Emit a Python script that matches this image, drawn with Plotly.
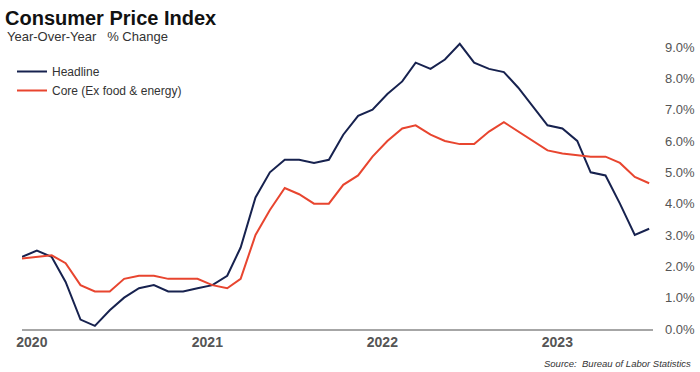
import plotly.graph_objects as go
import pandas as pd

months = pd.date_range("2019-12-01", "2023-07-01", freq="MS")

headline = [2.3,
            2.5, 2.3, 1.5, 0.3, 0.1, 0.6, 1.0, 1.3, 1.4, 1.2, 1.2, 1.3,
            1.4, 1.7, 2.6, 4.2, 5.0, 5.4, 5.4, 5.3, 5.4, 6.2, 6.8, 7.0,
            7.5, 7.9, 8.5, 8.3, 8.6, 9.1, 8.5, 8.3, 8.2, 7.7, 7.1, 6.5,
            6.4, 6.0, 5.0, 4.9, 4.0, 3.0, 3.2]

core = [2.25,
        2.3, 2.35, 2.1, 1.4, 1.2, 1.2, 1.6, 1.7, 1.7, 1.6, 1.6, 1.6,
        1.4, 1.3, 1.6, 3.0, 3.8, 4.5, 4.3, 4.0, 4.0, 4.6, 4.9, 5.5,
        6.0, 6.4, 6.5, 6.2, 6.0, 5.9, 5.9, 6.3, 6.6, 6.3, 6.0, 5.7,
        5.6, 5.55, 5.5, 5.5, 5.3, 4.85, 4.65]

y_ticks = [0, 1, 2, 3, 4, 5, 6, 7, 8, 9]
y_tick_text = [f"{v:.1f}%" for v in y_ticks]
x_ticks = ["2020-01-01", "2021-01-01", "2022-01-01", "2023-01-01"]
x_tick_text = ["2020", "2021", "2022", "2023"]

NAVY = "#17224f"
RED = "#e8452f"
FONT = "Liberation Sans, Arial, sans-serif"

# plot area in pixels: x 22..653, y 36..329
def px(x):
    return (x - 22) / 631.0

def py(y):
    return (329 - y) / 293.0

fig = go.Figure()
fig.add_trace(go.Scatter(x=months, y=headline, mode="lines", name="Headline",
                         line=dict(color=NAVY, width=2)))
fig.add_trace(go.Scatter(x=months, y=core, mode="lines", name="Core (Ex food & energy)",
                         line=dict(color=RED, width=2)))

fig.update_layout(
    width=700, height=372,
    margin=dict(l=22, r=47, t=36, b=43, autoexpand=False),
    paper_bgcolor="white", plot_bgcolor="white",
    font=dict(family=FONT, color="#444"),
    showlegend=True,
    hovermode=False,
    legend=dict(x=px(12), y=py(81), xref="paper", yref="paper",
                xanchor="left", yanchor="middle",
                bgcolor="rgba(0,0,0,0)", itemwidth=30, tracegroupgap=0,
                font=dict(size=12, color="#333", family=FONT)),
    xaxis=dict(type="date", range=["2019-12-01", "2023-07-09"],
               tickvals=x_ticks, ticktext=x_tick_text, automargin=False,
               showgrid=False, zeroline=False,
               showline=True, linecolor="#a6a6a6", linewidth=1.5,
               ticks="", ticklabelshift=-5,
               tickfont=dict(size=14, color="#555", family=FONT, weight="bold")),
    yaxis=dict(range=[0, 9.35], side="right", automargin=False,
               tickvals=y_ticks, ticktext=y_tick_text,
               showgrid=False, zeroline=False, showline=False,
               ticks="", ticklabelstandoff=11,
               tickfont=dict(size=13, color="#555", family=FONT)),
)

fig.add_annotation(text="<b>Consumer Price Index</b>", xref="paper", yref="paper",
                   x=px(3), y=py(5), xanchor="left", yanchor="top", showarrow=False,
                   font=dict(size=20, color="#111", family=FONT))
fig.add_annotation(text="Year-Over-Year   % Change", xref="paper", yref="paper",
                   x=px(5), y=py(27), xanchor="left", yanchor="top", showarrow=False,
                   font=dict(size=13, color="#333", family=FONT))
fig.add_annotation(text="<i>Source:  Bureau of Labor Statistics</i>", xref="paper", yref="paper",
                   x=px(693), y=py(363), xanchor="right", yanchor="middle", showarrow=False,
                   font=dict(size=9.5, color="#333", family=FONT))

fig.write_html("out.html", config={"displayModeBar": False, "staticPlot": True},
               post_script="document.body.style.margin='0';document.body.style.padding='0';")
